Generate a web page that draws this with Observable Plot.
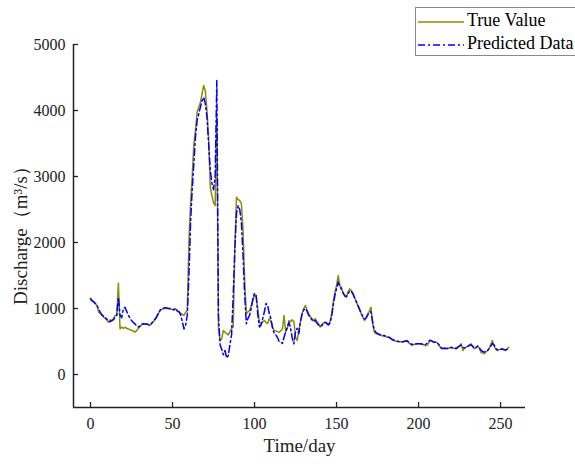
<!DOCTYPE html>
<html>
<head>
<meta charset="utf-8">
<script src="https://cdn.jsdelivr.net/npm/d3@7"></script>
<script src="https://cdn.jsdelivr.net/npm/@observablehq/plot@0.6"></script>
<style>
  html, body { margin: 0; padding: 0; background: #fff; overflow: hidden; }
  #wrap { position: relative; width: 575px; height: 466px; }
  #legend { position: absolute; left: 415px; top: 7px; width: 200px; height: 47px;
    border: 1px solid #8a8a8a; background: #fff; font-family: "Liberation Serif", "Times New Roman", serif;
    font-size: 18px; color: #000; }
  #legend .row { position: absolute; left: 2px; height: 22px; white-space: nowrap; }
  #legend svg { vertical-align: middle; }
</style>
</head>
<body>
<div id="wrap"></div>
<script>
const seriesNames = ["True Value", "Predicted Data"];
const seriesColors = ["#8c8c00", "#0000ff"];
const xTicks = [0, 50, 100, 150, 200, 250];
const yTicks = [0, 1000, 2000, 3000, 4000, 5000];
const days = d3.range(0, 256);

const trueValue = [
  1130,1110,1100,1080,1045,944,920,900,868,850,
  820,792,830,810,850,894,900,1383,692,720,
  700,717,700,690,680,670,660,641,660,692,
  720,750,768,760,770,755,742,760,790,818,
  850,900,950,980,990,1000,1005,1000,995,990,
  980,975,995,960,944,930,910,894,944,970,
  2030,2586,3000,3495,3700,3975,4050,4126,4250,4379,
  4300,4000,3595,2838,2712,2600,2560,3900,700,515,
  540,667,640,620,600,650,697,720,1955,2687,
  2650,2636,2590,2180,1424,920,950,970,1050,1121,
  1222,1171,1000,792,768,800,818,790,773,848,
  800,720,667,660,650,641,660,692,894,641,
  700,818,800,830,800,565,515,667,800,920,
  1000,1045,980,920,880,850,818,845,800,768,
  717,760,780,792,770,760,800,920,1100,1247,
  1350,1500,1350,1323,1222,1200,1171,1250,1298,1273,
  1230,1171,1100,1045,980,920,870,818,850,920,
  960,1020,768,641,620,610,600,591,590,580,
  575,565,560,540,525,515,505,500,495,500,
  490,500,510,515,480,460,440,455,460,465,
  465,465,460,450,440,440,470,515,505,490,
  490,490,460,420,389,395,400,389,395,405,
  414,400,395,389,420,440,465,364,400,414,
  430,450,465,420,389,410,440,400,338,330,
  313,340,364,400,450,515,440,380,364,375,
  385,389,375,364,390,414
];

const predictedData = [
  1150,1120,1100,1070,1040,990,940,900,880,860,
  840,810,800,820,830,870,900,1170,900,860,
  995,1020,960,900,860,818,790,770,740,720,
  730,760,770,765,765,760,750,770,800,830,
  860,910,960,990,1000,1010,1010,1005,1000,1000,
  990,985,1000,960,950,900,800,690,750,900,
  1500,2300,2800,3200,3600,3850,3950,4050,4150,4200,
  4100,3900,3500,3100,2900,2800,3000,4455,900,450,
  380,300,364,250,288,450,600,1200,1900,2450,
  2560,2500,2300,1800,1200,770,850,900,1000,1150,
  1227,1200,900,720,750,850,950,1075,1050,920,
  850,700,620,600,560,500,490,470,565,650,
  720,790,700,550,465,650,700,620,800,920,
  980,1000,960,900,860,830,800,820,780,750,
  730,740,770,790,780,750,780,880,1050,1200,
  1300,1400,1330,1290,1240,1190,1180,1220,1270,1260,
  1220,1160,1110,1050,990,930,880,840,860,900,
  940,950,800,680,640,620,610,600,595,590,
  580,570,565,550,530,520,510,505,500,500,
  495,500,505,510,490,470,455,460,460,465,
  465,465,462,455,450,470,500,520,510,495,
  490,485,465,430,400,395,398,395,398,405,
  410,405,400,395,410,430,445,410,405,410,
  425,440,450,430,400,405,425,410,370,350,
  340,345,360,390,430,470,450,400,375,375,
  380,385,380,370,380,400
];

const xDomain = [-10.37, 265.2];
const yDomain = [-500, 5000];
const trueRows = days.map((d, i) => ({day: d, value: trueValue[i]}));
const predRows = days.map((d, i) => ({day: d, value: predictedData[i]}));

const font = "Liberation Serif, Times New Roman, serif";
const tickLenX = 5 / 1.64;   // ~5px in day units
const tickLenY = 5 / 0.066;  // ~5px in value units

const chart = Plot.plot({
  width: 575,
  height: 466,
  marginLeft: 73,
  marginRight: 50,
  marginTop: 44,
  marginBottom: 59,
  style: {fontFamily: font, fontSize: "16px", color: "#222", background: "#fff"},
  x: {domain: xDomain, axis: null},
  y: {domain: yDomain, axis: null},
  marks: [
    Plot.text(xTicks, {x: d => d, y: yDomain[0], text: d => String(d), dy: 16, fontSize: 16, fill: "#222", fontFamily: font}),
    Plot.text(yTicks, {x: xDomain[0], y: d => d, text: d => String(d), textAnchor: "end", dx: -8, fontSize: 16, fill: "#222", fontFamily: font}),
    Plot.ruleX(xTicks, {x: d => d, y1: yDomain[0], y2: yDomain[0] + tickLenY, stroke: "#222", strokeWidth: 1.3}),
    Plot.ruleY(yTicks, {y: d => d, x1: xDomain[0], x2: xDomain[0] + tickLenX, stroke: "#222", strokeWidth: 1.3}),
    Plot.ruleX([xDomain[0]], {stroke: "#222", strokeWidth: 1.5}),
    Plot.ruleY([yDomain[0]], {stroke: "#222", strokeWidth: 1.5}),
    Plot.line(trueRows, {x: "day", y: "value", stroke: seriesColors[0], strokeWidth: 1.5}),
    Plot.line(predRows, {x: "day", y: "value", stroke: seriesColors[1], strokeWidth: 1.5, strokeDasharray: "7,3,2,3"}),
    Plot.text(["Discharge（m³/s）"], {frameAnchor: "left", textAnchor: "middle", dx: -53, dy: 5, rotate: -90, fontSize: 19, fill: "#222", fontFamily: font}),
    Plot.text(["Time/day"], {frameAnchor: "bottom", dy: 44, fontSize: 19, fill: "#222", fontFamily: font})
  ]
});

const wrap = document.getElementById("wrap");
wrap.appendChild(chart);

const legend = document.createElement("div");
legend.id = "legend";
seriesNames.forEach((name, i) => {
  const row = document.createElement("div");
  row.className = "row";
  row.style.top = (i === 0 ? 1 : 24) + "px";
  const dash = i === 1 ? 'stroke-dasharray="7,3,2,3"' : "";
  row.innerHTML = `<svg width="46" height="22"><line x1="0" y1="12" x2="46" y2="12" stroke="${seriesColors[i]}" stroke-width="1.6" ${dash}/></svg><span style="margin-left:3px;vertical-align:middle">${name}</span>`;
  legend.appendChild(row);
});
wrap.appendChild(legend);
</script>
</body>
</html>
